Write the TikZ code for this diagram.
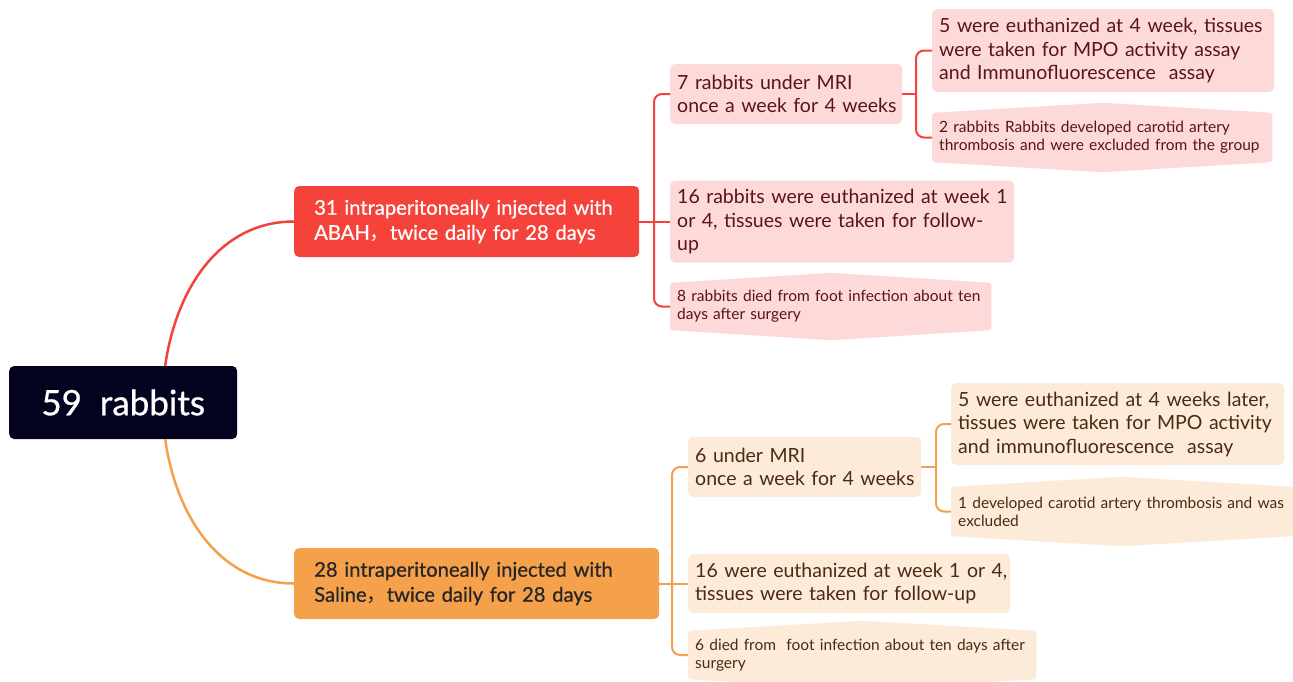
\documentclass[tikz,border=0pt]{standalone}
\usepackage{fontspec}
\setmainfont{Lato}
\newfontfamily\medium[FakeBold=0.7]{Lato}
\newfontfamily\cjk{Noto Sans CJK SC}
\usetikzlibrary{positioning}
\usetikzlibrary{backgrounds}
\definecolor{rootfill}{HTML}{03021F}
\definecolor{abahred}{HTML}{F5423A}
\definecolor{salorange}{HTML}{F5A04B}
\definecolor{pinkfill}{HTML}{FDD9D9}
\definecolor{peachfill}{HTML}{FDEBDA}
\definecolor{pinktext}{HTML}{5A1414}
\definecolor{peachtext}{HTML}{4A2A12}
\tikzset{box/.style={anchor=west, rounded corners=5pt, inner xsep=0pt, inner ysep=0pt, align=left,
  execute at begin node={\leftskip=7pt}},
bigtext/.style={font=\fontsize{19.5}{23.5}\selectfont},
smalltext/.style={font=\fontsize{15.5}{18}\selectfont}}
% callout shape behind the small notes
\newcommand{\tipshape}[2]{\fill[#1, rounded corners=3pt] (#2.north west) -- ([yshift=10pt]#2.north) -- (#2.north east) -- (#2.south east) -- ([yshift=-10pt]#2.south) -- (#2.south west) -- cycle;}

\begin{document}
\begin{tikzpicture}[x=1pt, y=-1pt,
    pinkbox/.style={box, fill=pinkfill, text=pinktext},
    peachbox/.style={box, fill=peachfill, text=peachtext},
    tipbox/.style={box, text=#1, rounded corners=0pt},
    groupbox/.style={box, text width=#1, minimum height=71pt, execute at begin node={\leftskip=20pt},
      font=\medium\fontsize{20.2}{25}\selectfont},
    redlink/.style={draw=abahred, line width=2pt},
    orlink/.style={draw=salorange, line width=2pt}]
\useasboundingbox (0,0) rectangle (1293,681);
\clip (0,0) rectangle (1293,681);

\node[box, fill=rootfill, text=white, align=center, minimum width=228pt, minimum height=73pt,
  execute at begin node={}, font=\medium\fontsize{35}{40}\selectfont] (root) at (9,402.5) {59\ \ rabbits};

\node[groupbox=345pt, fill=abahred, text=white] (abah) at (294,221.5)
  {31 intraperitoneally injected with\\ABAH{\cjk ，}twice daily for 28 days};
\node[groupbox=365pt, fill=salorange, text=black!85] (saline) at (294,583.5)
  {28 intraperitoneally injected with\\Saline{\cjk ，}twice daily for 28 days};

% ABAH group
\node[pinkbox, bigtext, text width=232pt, minimum height=60pt] (mri) at (670,94)
  {7 rabbits under MRI\\once a week for 4 weeks};
\node[pinkbox, bigtext, text width=344pt, minimum height=82pt] (foll) at (670,221.5)
  {16 rabbits were euthanized at week 1\\or 4, tissues were taken for follow-\\up};
\node[tipbox=pinktext, smalltext, text width=321pt, minimum height=47pt] (died) at (670,306.5)
  {8 rabbits died from foot infection about ten\\days after surgery};
\node[pinkbox, bigtext, text width=342pt, minimum height=83pt] (mpo) at (932,50.5)
  {5 were euthanized at 4 week, tissues\\were taken for MPO activity assay\\and Immunofluorescence\ \ assay};
\node[tipbox=pinktext, smalltext, text width=340pt, minimum height=49pt] (thromb) at (932,137.5)
  {2 rabbits Rabbits developed carotid artery\\thrombosis and were excluded from the group};

% Saline group
\node[peachbox, bigtext, text width=233pt, minimum height=60pt] (mriS) at (688,467)
  {6 under MRI\\once a week for 4 weeks};
\node[peachbox, bigtext, text width=322pt, minimum height=59pt] (follS) at (688,583.5)
  {16 were euthanized at week 1 or 4,\\tissues were taken for follow-up};
\node[tipbox=peachtext, smalltext, text width=348pt, minimum height=48pt] (diedS) at (688,655)
  {6 died from\ \ foot infection about ten days after\\surgery};
\node[peachbox, bigtext, text width=333pt, minimum height=82pt] (mpoS) at (951,424)
  {5 were euthanized at 4 weeks later,\\tissues were taken for MPO activity\\and immunofluorescence\ \ assay};
\node[tipbox=peachtext, smalltext, text width=342pt, minimum height=49pt] (thrombS) at (951,511.5)
  {1 developed carotid artery thrombosis and was\\excluded};

\begin{scope}[on background layer]
\fill[white] (0,0) rectangle (1293,681);
\tipshape{pinkfill}{died}
\tipshape{pinkfill}{thromb}
\tipshape{peachfill}{diedS}
\tipshape{peachfill}{thrombS}
\end{scope}

\coordinate (rootA) at ([xshift=42pt]root.north);
\coordinate (rootB) at ([xshift=42pt]root.south);
\coordinate (jA) at (654,221.5);
\coordinate (jB) at (916,94);
\coordinate (jC) at (672,583.5);
\coordinate (jD) at (936,467);

\draw[redlink, line width=2.5pt] (rootA) to[out=82, in=180] (abah.west);
\draw[orlink, line width=2.5pt] (rootB) to[out=-82, in=180] (saline.west);

\draw[redlink] (abah.east) -- (foll.west);
\foreach \n in {mri,died} \draw[redlink, rounded corners=8pt] (jA) |- (\n.west);
\draw[redlink] (mri.east) -- (jB);
\foreach \n in {mpo,thromb} \draw[redlink, rounded corners=8pt] (jB) |- (\n.west);

\draw[orlink] (saline.east) -- (follS.west);
\foreach \n in {mriS,diedS} \draw[orlink, rounded corners=8pt] (jC) |- (\n.west);
\draw[orlink] (mriS.east) -- (jD);
\foreach \n in {mpoS,thrombS} \draw[orlink, rounded corners=8pt] (jD) |- (\n.west);
\end{tikzpicture}
\end{document}
